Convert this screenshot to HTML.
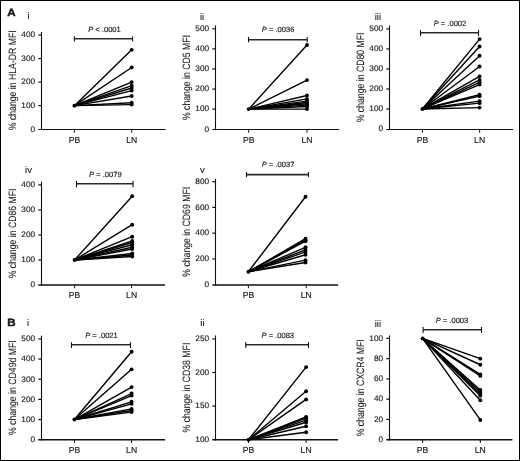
<!DOCTYPE html>
<html><head><meta charset="utf-8"><style>
html,body{margin:0;padding:0;background:#fff;}
body{width:520px;height:461px;overflow:hidden;}
svg{display:block;will-change:transform;}
text{font-family:"Liberation Sans", sans-serif;fill:#1a1a1a;text-rendering:geometricPrecision;stroke:#1a1a1a;stroke-width:0.15px;}
</style></head><body>
<svg width="520" height="461" viewBox="0 0 520 461">
<rect x="0.5" y="0.5" width="519" height="460" fill="#fff" stroke="#000" stroke-width="1"/>
<text transform="translate(7.3,16.3) scale(1.1,1)" font-size="10.5" font-weight="bold" style="stroke-width:0.45px">A</text>
<text transform="translate(7.3,326.3) scale(1.1,1)" font-size="10.5" font-weight="bold" style="stroke-width:0.45px">B</text>
<line x1="41.5" y1="32" x2="41.5" y2="130" stroke="#111" stroke-width="1.1"/>
<line x1="38.3" y1="129.5" x2="165.6" y2="129.5" stroke="#111" stroke-width="1.0"/>
<text transform="translate(35.1,131.5) scale(1.03,1)" font-size="8.0" text-anchor="end">0</text>
<line x1="38.3" y1="105.65" x2="41.5" y2="105.65" stroke="#111" stroke-width="1.2"/>
<text transform="translate(35.1,107.95) scale(1.03,1)" font-size="8.0" text-anchor="end">100</text>
<line x1="38.3" y1="82.1" x2="41.5" y2="82.1" stroke="#111" stroke-width="1.2"/>
<text transform="translate(35.1,84.4) scale(1.03,1)" font-size="8.0" text-anchor="end">200</text>
<line x1="38.3" y1="58.55" x2="41.5" y2="58.55" stroke="#111" stroke-width="1.2"/>
<text transform="translate(35.1,60.85) scale(1.03,1)" font-size="8.0" text-anchor="end">300</text>
<line x1="38.3" y1="35" x2="41.5" y2="35" stroke="#111" stroke-width="1.2"/>
<text transform="translate(35.1,37.3) scale(1.03,1)" font-size="8.0" text-anchor="end">400</text>
<line x1="74.4" y1="129.5" x2="74.4" y2="132.7" stroke="#111" stroke-width="1"/>
<text transform="translate(74.4,142.6)" font-size="8.6" text-anchor="middle">PB</text>
<line x1="131.7" y1="129.5" x2="131.7" y2="132.7" stroke="#111" stroke-width="1"/>
<text transform="translate(131.7,142.6)" font-size="8.6" text-anchor="middle">LN</text>
<line x1="74.4" y1="38.8" x2="132.6" y2="38.8" stroke="#2a2a2a" stroke-width="1.6"/>
<line x1="74.4" y1="36.2" x2="74.4" y2="41.5" stroke="#111" stroke-width="1.1"/>
<line x1="132.6" y1="36.2" x2="132.6" y2="41.5" stroke="#111" stroke-width="1.1"/>
<text transform="translate(88.2,31.9)" font-size="7.55"><tspan font-style="italic">P</tspan> &lt; .0001</text>
<text transform="translate(27.4,19.3)" font-size="9.6" style="stroke-width:0.1px">i</text>
<text transform="translate(15.6,80.25) scale(1.22,1) rotate(-90)" font-size="8.7" text-anchor="middle" style="stroke-width:0.06px">% change in HLA-DR MFI</text>
<line x1="74.4" y1="105.65" x2="131.7" y2="49.84" stroke="#000" stroke-width="1.4"/>
<line x1="74.4" y1="105.65" x2="131.7" y2="67.5" stroke="#000" stroke-width="1.4"/>
<line x1="74.4" y1="105.65" x2="131.7" y2="82.1" stroke="#000" stroke-width="1.4"/>
<line x1="74.4" y1="105.65" x2="131.7" y2="85.63" stroke="#000" stroke-width="1.4"/>
<line x1="74.4" y1="105.65" x2="131.7" y2="87.99" stroke="#000" stroke-width="1.4"/>
<line x1="74.4" y1="105.65" x2="131.7" y2="90.58" stroke="#000" stroke-width="1.4"/>
<line x1="74.4" y1="105.65" x2="131.7" y2="95.99" stroke="#000" stroke-width="1.4"/>
<line x1="74.4" y1="105.65" x2="131.7" y2="102.82" stroke="#000" stroke-width="1.4"/>
<line x1="74.4" y1="105.65" x2="131.7" y2="104.59" stroke="#000" stroke-width="1.4"/>
<circle cx="131.7" cy="49.84" r="1.95" fill="#000"/>
<circle cx="131.7" cy="67.5" r="1.95" fill="#000"/>
<circle cx="131.7" cy="82.1" r="1.95" fill="#000"/>
<circle cx="131.7" cy="85.63" r="1.95" fill="#000"/>
<circle cx="131.7" cy="87.99" r="1.95" fill="#000"/>
<circle cx="131.7" cy="90.58" r="1.95" fill="#000"/>
<circle cx="131.7" cy="95.99" r="1.95" fill="#000"/>
<circle cx="131.7" cy="102.82" r="1.95" fill="#000"/>
<circle cx="131.7" cy="104.59" r="1.95" fill="#000"/>
<circle cx="74.4" cy="105.65" r="1.95" fill="#000"/>
<line x1="215.5" y1="25.4" x2="215.5" y2="130" stroke="#111" stroke-width="1.1"/>
<line x1="212.3" y1="129.5" x2="339.2" y2="129.5" stroke="#111" stroke-width="1.0"/>
<text transform="translate(209.1,131.5) scale(1.03,1)" font-size="8.0" text-anchor="end">0</text>
<line x1="212.3" y1="109.12" x2="215.5" y2="109.12" stroke="#111" stroke-width="1.2"/>
<text transform="translate(209.1,111.42) scale(1.03,1)" font-size="8.0" text-anchor="end">100</text>
<line x1="212.3" y1="89.04" x2="215.5" y2="89.04" stroke="#111" stroke-width="1.2"/>
<text transform="translate(209.1,91.34) scale(1.03,1)" font-size="8.0" text-anchor="end">200</text>
<line x1="212.3" y1="68.96" x2="215.5" y2="68.96" stroke="#111" stroke-width="1.2"/>
<text transform="translate(209.1,71.26) scale(1.03,1)" font-size="8.0" text-anchor="end">300</text>
<line x1="212.3" y1="48.88" x2="215.5" y2="48.88" stroke="#111" stroke-width="1.2"/>
<text transform="translate(209.1,51.18) scale(1.03,1)" font-size="8.0" text-anchor="end">400</text>
<line x1="212.3" y1="28.8" x2="215.5" y2="28.8" stroke="#111" stroke-width="1.2"/>
<text transform="translate(209.1,31.1) scale(1.03,1)" font-size="8.0" text-anchor="end">500</text>
<line x1="248.7" y1="129.5" x2="248.7" y2="132.7" stroke="#111" stroke-width="1"/>
<text transform="translate(248.7,142.6)" font-size="8.6" text-anchor="middle">PB</text>
<line x1="307" y1="129.5" x2="307" y2="132.7" stroke="#111" stroke-width="1"/>
<text transform="translate(307,142.6)" font-size="8.6" text-anchor="middle">LN</text>
<line x1="248.5" y1="39.7" x2="307.2" y2="39.7" stroke="#2a2a2a" stroke-width="1.6"/>
<line x1="248.5" y1="36.9" x2="248.5" y2="42.3" stroke="#111" stroke-width="1.1"/>
<line x1="307.2" y1="36.9" x2="307.2" y2="42.3" stroke="#111" stroke-width="1.1"/>
<text transform="translate(261.8,32.4)" font-size="7.55"><tspan font-style="italic">P</tspan> = .0036</text>
<text transform="translate(199.9,19.6)" font-size="9.6" style="stroke-width:0.1px">ii</text>
<text transform="translate(190.1,77.6) scale(1.22,1) rotate(-90)" font-size="8.7" text-anchor="middle" style="stroke-width:0.06px">% change in CD5 MFI</text>
<line x1="248.7" y1="109.12" x2="307" y2="45.06" stroke="#000" stroke-width="1.4"/>
<line x1="248.7" y1="109.12" x2="307" y2="80.1" stroke="#000" stroke-width="1.4"/>
<line x1="248.7" y1="109.12" x2="307" y2="95.47" stroke="#000" stroke-width="1.4"/>
<line x1="248.7" y1="109.12" x2="307" y2="98.88" stroke="#000" stroke-width="1.4"/>
<line x1="248.7" y1="109.12" x2="307" y2="101.09" stroke="#000" stroke-width="1.4"/>
<line x1="248.7" y1="109.12" x2="307" y2="102.49" stroke="#000" stroke-width="1.4"/>
<line x1="248.7" y1="109.12" x2="307" y2="103.7" stroke="#000" stroke-width="1.4"/>
<line x1="248.7" y1="109.12" x2="307" y2="105.1" stroke="#000" stroke-width="1.4"/>
<line x1="248.7" y1="109.12" x2="307" y2="106.51" stroke="#000" stroke-width="1.4"/>
<line x1="248.7" y1="109.12" x2="307" y2="109.12" stroke="#000" stroke-width="1.4"/>
<circle cx="307" cy="45.06" r="1.95" fill="#000"/>
<circle cx="307" cy="80.1" r="1.95" fill="#000"/>
<circle cx="307" cy="95.47" r="1.95" fill="#000"/>
<circle cx="307" cy="98.88" r="1.95" fill="#000"/>
<circle cx="307" cy="101.09" r="1.95" fill="#000"/>
<circle cx="307" cy="102.49" r="1.95" fill="#000"/>
<circle cx="307" cy="103.7" r="1.95" fill="#000"/>
<circle cx="307" cy="105.1" r="1.95" fill="#000"/>
<circle cx="307" cy="106.51" r="1.95" fill="#000"/>
<circle cx="307" cy="109.12" r="1.95" fill="#000"/>
<circle cx="248.7" cy="109.12" r="1.95" fill="#000"/>
<line x1="389.5" y1="25.6" x2="389.5" y2="130" stroke="#111" stroke-width="1.1"/>
<line x1="386.3" y1="129.5" x2="513.1" y2="129.5" stroke="#111" stroke-width="1.0"/>
<text transform="translate(383.1,131.3) scale(1.03,1)" font-size="8.0" text-anchor="end">0</text>
<line x1="386.3" y1="108.98" x2="389.5" y2="108.98" stroke="#111" stroke-width="1.2"/>
<text transform="translate(383.1,111.28) scale(1.03,1)" font-size="8.0" text-anchor="end">100</text>
<line x1="386.3" y1="88.96" x2="389.5" y2="88.96" stroke="#111" stroke-width="1.2"/>
<text transform="translate(383.1,91.26) scale(1.03,1)" font-size="8.0" text-anchor="end">200</text>
<line x1="386.3" y1="68.94" x2="389.5" y2="68.94" stroke="#111" stroke-width="1.2"/>
<text transform="translate(383.1,71.24) scale(1.03,1)" font-size="8.0" text-anchor="end">300</text>
<line x1="386.3" y1="48.92" x2="389.5" y2="48.92" stroke="#111" stroke-width="1.2"/>
<text transform="translate(383.1,51.22) scale(1.03,1)" font-size="8.0" text-anchor="end">400</text>
<line x1="386.3" y1="28.9" x2="389.5" y2="28.9" stroke="#111" stroke-width="1.2"/>
<text transform="translate(383.1,31.2) scale(1.03,1)" font-size="8.0" text-anchor="end">500</text>
<line x1="422.4" y1="129.5" x2="422.4" y2="132.7" stroke="#111" stroke-width="1"/>
<text transform="translate(422.4,142.6)" font-size="8.6" text-anchor="middle">PB</text>
<line x1="479.6" y1="129.5" x2="479.6" y2="132.7" stroke="#111" stroke-width="1"/>
<text transform="translate(479.6,142.6)" font-size="8.6" text-anchor="middle">LN</text>
<line x1="420.5" y1="32.8" x2="478.5" y2="32.8" stroke="#2a2a2a" stroke-width="1.6"/>
<line x1="420.5" y1="30" x2="420.5" y2="36.2" stroke="#111" stroke-width="1.1"/>
<line x1="478.5" y1="30" x2="478.5" y2="36.2" stroke="#111" stroke-width="1.1"/>
<text transform="translate(433.7,25.6)" font-size="7.55"><tspan font-style="italic">P</tspan> = .0002</text>
<text transform="translate(374.7,19.6)" font-size="9.6" style="stroke-width:0.1px">iii</text>
<text transform="translate(364,77.4) scale(1.22,1) rotate(-90)" font-size="8.7" text-anchor="middle" style="stroke-width:0.06px">% change in CD80 MFI</text>
<line x1="422.4" y1="108.98" x2="479.6" y2="39.11" stroke="#000" stroke-width="1.4"/>
<line x1="422.4" y1="108.98" x2="479.6" y2="46.52" stroke="#000" stroke-width="1.4"/>
<line x1="422.4" y1="108.98" x2="479.6" y2="55.73" stroke="#000" stroke-width="1.4"/>
<line x1="422.4" y1="108.98" x2="479.6" y2="66.54" stroke="#000" stroke-width="1.4"/>
<line x1="422.4" y1="108.98" x2="479.6" y2="76.35" stroke="#000" stroke-width="1.4"/>
<line x1="422.4" y1="108.98" x2="479.6" y2="79.95" stroke="#000" stroke-width="1.4"/>
<line x1="422.4" y1="108.98" x2="479.6" y2="82.35" stroke="#000" stroke-width="1.4"/>
<line x1="422.4" y1="108.98" x2="479.6" y2="84.56" stroke="#000" stroke-width="1.4"/>
<line x1="422.4" y1="108.98" x2="479.6" y2="94.77" stroke="#000" stroke-width="1.4"/>
<line x1="422.4" y1="108.98" x2="479.6" y2="96.17" stroke="#000" stroke-width="1.4"/>
<line x1="422.4" y1="108.98" x2="479.6" y2="101.17" stroke="#000" stroke-width="1.4"/>
<line x1="422.4" y1="108.98" x2="479.6" y2="103.17" stroke="#000" stroke-width="1.4"/>
<line x1="422.4" y1="108.98" x2="479.6" y2="107.58" stroke="#000" stroke-width="1.4"/>
<circle cx="479.6" cy="39.11" r="1.95" fill="#000"/>
<circle cx="479.6" cy="46.52" r="1.95" fill="#000"/>
<circle cx="479.6" cy="55.73" r="1.95" fill="#000"/>
<circle cx="479.6" cy="66.54" r="1.95" fill="#000"/>
<circle cx="479.6" cy="76.35" r="1.95" fill="#000"/>
<circle cx="479.6" cy="79.95" r="1.95" fill="#000"/>
<circle cx="479.6" cy="82.35" r="1.95" fill="#000"/>
<circle cx="479.6" cy="84.56" r="1.95" fill="#000"/>
<circle cx="479.6" cy="94.77" r="1.95" fill="#000"/>
<circle cx="479.6" cy="96.17" r="1.95" fill="#000"/>
<circle cx="479.6" cy="101.17" r="1.95" fill="#000"/>
<circle cx="479.6" cy="103.17" r="1.95" fill="#000"/>
<circle cx="479.6" cy="107.58" r="1.95" fill="#000"/>
<circle cx="422.4" cy="108.98" r="1.95" fill="#000"/>
<line x1="41.5" y1="181.7" x2="41.5" y2="285.8" stroke="#111" stroke-width="1.1"/>
<line x1="38.3" y1="285" x2="165" y2="285" stroke="#111" stroke-width="1.6"/>
<text transform="translate(35.1,287.3) scale(1.03,1)" font-size="8.0" text-anchor="end">0</text>
<line x1="38.3" y1="259.98" x2="41.5" y2="259.98" stroke="#111" stroke-width="1.2"/>
<text transform="translate(35.1,262.28) scale(1.03,1)" font-size="8.0" text-anchor="end">100</text>
<line x1="38.3" y1="234.95" x2="41.5" y2="234.95" stroke="#111" stroke-width="1.2"/>
<text transform="translate(35.1,237.25) scale(1.03,1)" font-size="8.0" text-anchor="end">200</text>
<line x1="38.3" y1="209.93" x2="41.5" y2="209.93" stroke="#111" stroke-width="1.2"/>
<text transform="translate(35.1,212.23) scale(1.03,1)" font-size="8.0" text-anchor="end">300</text>
<line x1="38.3" y1="184.9" x2="41.5" y2="184.9" stroke="#111" stroke-width="1.2"/>
<text transform="translate(35.1,187.2) scale(1.03,1)" font-size="8.0" text-anchor="end">400</text>
<line x1="74.6" y1="285" x2="74.6" y2="288.2" stroke="#111" stroke-width="1"/>
<text transform="translate(74.6,298.1)" font-size="8.6" text-anchor="middle">PB</text>
<line x1="131.6" y1="285" x2="131.6" y2="288.2" stroke="#111" stroke-width="1"/>
<text transform="translate(131.6,298.1)" font-size="8.6" text-anchor="middle">LN</text>
<line x1="76.5" y1="183.7" x2="133" y2="183.7" stroke="#2a2a2a" stroke-width="1.6"/>
<line x1="76.5" y1="181" x2="76.5" y2="187.2" stroke="#111" stroke-width="1.1"/>
<line x1="133" y1="181" x2="133" y2="187.2" stroke="#111" stroke-width="1.1"/>
<text transform="translate(89.1,177)" font-size="7.55"><tspan font-style="italic">P</tspan> = .0079</text>
<text transform="translate(25.1,173)" font-size="9.6" style="stroke-width:0.1px">iv</text>
<text transform="translate(15.6,233.4) scale(1.22,1) rotate(-90)" font-size="8.7" text-anchor="middle" style="stroke-width:0.06px">% change in CD86 MFI</text>
<line x1="74.6" y1="259.98" x2="132.2" y2="196.16" stroke="#000" stroke-width="1.4"/>
<line x1="74.6" y1="259.98" x2="132.2" y2="224.69" stroke="#000" stroke-width="1.4"/>
<line x1="74.6" y1="259.98" x2="132.2" y2="236.7" stroke="#000" stroke-width="1.4"/>
<line x1="74.6" y1="259.98" x2="132.2" y2="240.96" stroke="#000" stroke-width="1.4"/>
<line x1="74.6" y1="259.98" x2="132.2" y2="242.46" stroke="#000" stroke-width="1.4"/>
<line x1="74.6" y1="259.98" x2="132.2" y2="244.71" stroke="#000" stroke-width="1.4"/>
<line x1="74.6" y1="259.98" x2="132.2" y2="247.21" stroke="#000" stroke-width="1.4"/>
<line x1="74.6" y1="259.98" x2="132.2" y2="248.96" stroke="#000" stroke-width="1.4"/>
<line x1="74.6" y1="259.98" x2="132.2" y2="253.47" stroke="#000" stroke-width="1.4"/>
<line x1="74.6" y1="259.98" x2="132.2" y2="254.97" stroke="#000" stroke-width="1.4"/>
<line x1="74.6" y1="259.98" x2="132.2" y2="256.47" stroke="#000" stroke-width="1.4"/>
<circle cx="132.2" cy="196.16" r="1.95" fill="#000"/>
<circle cx="132.2" cy="224.69" r="1.95" fill="#000"/>
<circle cx="132.2" cy="236.7" r="1.95" fill="#000"/>
<circle cx="132.2" cy="240.96" r="1.95" fill="#000"/>
<circle cx="132.2" cy="242.46" r="1.95" fill="#000"/>
<circle cx="132.2" cy="244.71" r="1.95" fill="#000"/>
<circle cx="132.2" cy="247.21" r="1.95" fill="#000"/>
<circle cx="132.2" cy="248.96" r="1.95" fill="#000"/>
<circle cx="132.2" cy="253.47" r="1.95" fill="#000"/>
<circle cx="132.2" cy="254.97" r="1.95" fill="#000"/>
<circle cx="132.2" cy="256.47" r="1.95" fill="#000"/>
<circle cx="74.6" cy="259.98" r="1.95" fill="#000"/>
<line x1="215.5" y1="178.8" x2="215.5" y2="285.8" stroke="#111" stroke-width="1.1"/>
<line x1="212.3" y1="285" x2="338" y2="285" stroke="#111" stroke-width="1.6"/>
<text transform="translate(209.1,286.9) scale(1.03,1)" font-size="8.0" text-anchor="end">0</text>
<line x1="212.3" y1="258.88" x2="215.5" y2="258.88" stroke="#111" stroke-width="1.2"/>
<text transform="translate(209.1,261.18) scale(1.03,1)" font-size="8.0" text-anchor="end">200</text>
<line x1="212.3" y1="233.15" x2="215.5" y2="233.15" stroke="#111" stroke-width="1.2"/>
<text transform="translate(209.1,235.45) scale(1.03,1)" font-size="8.0" text-anchor="end">400</text>
<line x1="212.3" y1="207.43" x2="215.5" y2="207.43" stroke="#111" stroke-width="1.2"/>
<text transform="translate(209.1,209.73) scale(1.03,1)" font-size="8.0" text-anchor="end">600</text>
<line x1="212.3" y1="181.7" x2="215.5" y2="181.7" stroke="#111" stroke-width="1.2"/>
<text transform="translate(209.1,184) scale(1.03,1)" font-size="8.0" text-anchor="end">800</text>
<line x1="248.4" y1="285" x2="248.4" y2="288.2" stroke="#111" stroke-width="1"/>
<text transform="translate(248.4,298.1)" font-size="8.6" text-anchor="middle">PB</text>
<line x1="306.2" y1="285" x2="306.2" y2="288.2" stroke="#111" stroke-width="1"/>
<text transform="translate(306.2,298.1)" font-size="8.6" text-anchor="middle">LN</text>
<line x1="246.5" y1="174.6" x2="308.5" y2="174.6" stroke="#2a2a2a" stroke-width="1.6"/>
<line x1="246.5" y1="172" x2="246.5" y2="177.2" stroke="#111" stroke-width="1.1"/>
<line x1="308.5" y1="172" x2="308.5" y2="177.2" stroke="#111" stroke-width="1.1"/>
<text transform="translate(261.8,167)" font-size="7.55"><tspan font-style="italic">P</tspan> = .0037</text>
<text transform="translate(200,172.8)" font-size="9.6" style="stroke-width:0.1px">v</text>
<text transform="translate(190.1,231.8) scale(1.22,1) rotate(-90)" font-size="8.7" text-anchor="middle" style="stroke-width:0.06px">% change in CD69 MFI</text>
<line x1="248.4" y1="271.74" x2="305.5" y2="196.75" stroke="#000" stroke-width="1.4"/>
<line x1="248.4" y1="271.74" x2="305.5" y2="238.68" stroke="#000" stroke-width="1.4"/>
<line x1="248.4" y1="271.74" x2="305.5" y2="240.22" stroke="#000" stroke-width="1.4"/>
<line x1="248.4" y1="271.74" x2="305.5" y2="241.25" stroke="#000" stroke-width="1.4"/>
<line x1="248.4" y1="271.74" x2="305.5" y2="247.3" stroke="#000" stroke-width="1.4"/>
<line x1="248.4" y1="271.74" x2="305.5" y2="249.87" stroke="#000" stroke-width="1.4"/>
<line x1="248.4" y1="271.74" x2="305.5" y2="251.93" stroke="#000" stroke-width="1.4"/>
<line x1="248.4" y1="271.74" x2="305.5" y2="254.76" stroke="#000" stroke-width="1.4"/>
<line x1="248.4" y1="271.74" x2="305.5" y2="260.16" stroke="#000" stroke-width="1.4"/>
<line x1="248.4" y1="271.74" x2="305.5" y2="262.48" stroke="#000" stroke-width="1.4"/>
<circle cx="305.5" cy="196.75" r="1.95" fill="#000"/>
<circle cx="305.5" cy="238.68" r="1.95" fill="#000"/>
<circle cx="305.5" cy="240.22" r="1.95" fill="#000"/>
<circle cx="305.5" cy="241.25" r="1.95" fill="#000"/>
<circle cx="305.5" cy="247.3" r="1.95" fill="#000"/>
<circle cx="305.5" cy="249.87" r="1.95" fill="#000"/>
<circle cx="305.5" cy="251.93" r="1.95" fill="#000"/>
<circle cx="305.5" cy="254.76" r="1.95" fill="#000"/>
<circle cx="305.5" cy="260.16" r="1.95" fill="#000"/>
<circle cx="305.5" cy="262.48" r="1.95" fill="#000"/>
<circle cx="248.4" cy="271.74" r="1.95" fill="#000"/>
<line x1="41.5" y1="335.6" x2="41.5" y2="440.6" stroke="#111" stroke-width="1.1"/>
<line x1="38.3" y1="439.8" x2="165" y2="439.8" stroke="#111" stroke-width="1.6"/>
<text transform="translate(35.1,442) scale(1.03,1)" font-size="8.0" text-anchor="end">0</text>
<line x1="38.3" y1="419.54" x2="41.5" y2="419.54" stroke="#111" stroke-width="1.2"/>
<text transform="translate(35.1,421.84) scale(1.03,1)" font-size="8.0" text-anchor="end">100</text>
<line x1="38.3" y1="399.38" x2="41.5" y2="399.38" stroke="#111" stroke-width="1.2"/>
<text transform="translate(35.1,401.68) scale(1.03,1)" font-size="8.0" text-anchor="end">200</text>
<line x1="38.3" y1="379.22" x2="41.5" y2="379.22" stroke="#111" stroke-width="1.2"/>
<text transform="translate(35.1,381.52) scale(1.03,1)" font-size="8.0" text-anchor="end">300</text>
<line x1="38.3" y1="359.06" x2="41.5" y2="359.06" stroke="#111" stroke-width="1.2"/>
<text transform="translate(35.1,361.36) scale(1.03,1)" font-size="8.0" text-anchor="end">400</text>
<line x1="38.3" y1="338.9" x2="41.5" y2="338.9" stroke="#111" stroke-width="1.2"/>
<text transform="translate(35.1,341.2) scale(1.03,1)" font-size="8.0" text-anchor="end">500</text>
<line x1="74.4" y1="439.8" x2="74.4" y2="443" stroke="#111" stroke-width="1"/>
<text transform="translate(74.4,452.9)" font-size="8.6" text-anchor="middle">PB</text>
<line x1="131.6" y1="439.8" x2="131.6" y2="443" stroke="#111" stroke-width="1"/>
<text transform="translate(131.6,452.9)" font-size="8.6" text-anchor="middle">LN</text>
<line x1="71.5" y1="344.7" x2="130.5" y2="344.7" stroke="#2a2a2a" stroke-width="1.6"/>
<line x1="71.5" y1="342.2" x2="71.5" y2="348" stroke="#111" stroke-width="1.1"/>
<line x1="130.5" y1="342.2" x2="130.5" y2="348" stroke="#111" stroke-width="1.1"/>
<text transform="translate(85.2,338.2)" font-size="7.55"><tspan font-style="italic">P</tspan> = .0021</text>
<text transform="translate(27,325.9)" font-size="9.6" style="stroke-width:0.1px">i</text>
<text transform="translate(15.6,387.65) scale(1.22,1) rotate(-90)" font-size="8.7" text-anchor="middle" style="stroke-width:0.06px">% change in CD49d MFI</text>
<line x1="74.4" y1="419.54" x2="131.6" y2="351.8" stroke="#000" stroke-width="1.4"/>
<line x1="74.4" y1="419.54" x2="131.6" y2="369.34" stroke="#000" stroke-width="1.4"/>
<line x1="74.4" y1="419.54" x2="131.6" y2="387.08" stroke="#000" stroke-width="1.4"/>
<line x1="74.4" y1="419.54" x2="131.6" y2="393.53" stroke="#000" stroke-width="1.4"/>
<line x1="74.4" y1="419.54" x2="131.6" y2="395.55" stroke="#000" stroke-width="1.4"/>
<line x1="74.4" y1="419.54" x2="131.6" y2="401.8" stroke="#000" stroke-width="1.4"/>
<line x1="74.4" y1="419.54" x2="131.6" y2="403.82" stroke="#000" stroke-width="1.4"/>
<line x1="74.4" y1="419.54" x2="131.6" y2="408.86" stroke="#000" stroke-width="1.4"/>
<line x1="74.4" y1="419.54" x2="131.6" y2="410.47" stroke="#000" stroke-width="1.4"/>
<line x1="74.4" y1="419.54" x2="131.6" y2="412.08" stroke="#000" stroke-width="1.4"/>
<circle cx="131.6" cy="351.8" r="1.95" fill="#000"/>
<circle cx="131.6" cy="369.34" r="1.95" fill="#000"/>
<circle cx="131.6" cy="387.08" r="1.95" fill="#000"/>
<circle cx="131.6" cy="393.53" r="1.95" fill="#000"/>
<circle cx="131.6" cy="395.55" r="1.95" fill="#000"/>
<circle cx="131.6" cy="401.8" r="1.95" fill="#000"/>
<circle cx="131.6" cy="403.82" r="1.95" fill="#000"/>
<circle cx="131.6" cy="408.86" r="1.95" fill="#000"/>
<circle cx="131.6" cy="410.47" r="1.95" fill="#000"/>
<circle cx="131.6" cy="412.08" r="1.95" fill="#000"/>
<circle cx="74.4" cy="419.54" r="1.95" fill="#000"/>
<line x1="215.5" y1="335.4" x2="215.5" y2="440.6" stroke="#111" stroke-width="1.1"/>
<line x1="212.3" y1="439.8" x2="338" y2="439.8" stroke="#111" stroke-width="1.6"/>
<text transform="translate(209.1,442) scale(1.03,1)" font-size="8.0" text-anchor="end">100</text>
<line x1="212.3" y1="406.1" x2="215.5" y2="406.1" stroke="#111" stroke-width="1.2"/>
<text transform="translate(209.1,408.4) scale(1.03,1)" font-size="8.0" text-anchor="end">150</text>
<line x1="212.3" y1="372.5" x2="215.5" y2="372.5" stroke="#111" stroke-width="1.2"/>
<text transform="translate(209.1,374.8) scale(1.03,1)" font-size="8.0" text-anchor="end">200</text>
<line x1="212.3" y1="338.9" x2="215.5" y2="338.9" stroke="#111" stroke-width="1.2"/>
<text transform="translate(209.1,341.2) scale(1.03,1)" font-size="8.0" text-anchor="end">250</text>
<line x1="248.5" y1="439.8" x2="248.5" y2="443" stroke="#111" stroke-width="1"/>
<text transform="translate(248.5,452.9)" font-size="8.6" text-anchor="middle">PB</text>
<line x1="306.1" y1="439.8" x2="306.1" y2="443" stroke="#111" stroke-width="1"/>
<text transform="translate(306.1,452.9)" font-size="8.6" text-anchor="middle">LN</text>
<line x1="245.8" y1="344.7" x2="308.5" y2="344.7" stroke="#2a2a2a" stroke-width="1.6"/>
<line x1="245.8" y1="342" x2="245.8" y2="348" stroke="#111" stroke-width="1.1"/>
<line x1="308.5" y1="342" x2="308.5" y2="348" stroke="#111" stroke-width="1.1"/>
<text transform="translate(261.5,338.2)" font-size="7.55"><tspan font-style="italic">P</tspan> = .0083</text>
<text transform="translate(200.3,326.3)" font-size="9.6" style="stroke-width:0.1px">ii</text>
<text transform="translate(190.1,387.6) scale(1.22,1) rotate(-90)" font-size="8.7" text-anchor="middle" style="stroke-width:0.06px">% change in CD38 MFI</text>
<line x1="248.5" y1="439.7" x2="306.1" y2="367.12" stroke="#000" stroke-width="1.4"/>
<line x1="248.5" y1="439.7" x2="306.1" y2="391.32" stroke="#000" stroke-width="1.4"/>
<line x1="248.5" y1="439.7" x2="306.1" y2="399.38" stroke="#000" stroke-width="1.4"/>
<line x1="248.5" y1="439.7" x2="306.1" y2="416.85" stroke="#000" stroke-width="1.4"/>
<line x1="248.5" y1="439.7" x2="306.1" y2="418.2" stroke="#000" stroke-width="1.4"/>
<line x1="248.5" y1="439.7" x2="306.1" y2="420.21" stroke="#000" stroke-width="1.4"/>
<line x1="248.5" y1="439.7" x2="306.1" y2="422.23" stroke="#000" stroke-width="1.4"/>
<line x1="248.5" y1="439.7" x2="306.1" y2="426.26" stroke="#000" stroke-width="1.4"/>
<line x1="248.5" y1="439.7" x2="306.1" y2="432.31" stroke="#000" stroke-width="1.4"/>
<circle cx="306.1" cy="367.12" r="1.95" fill="#000"/>
<circle cx="306.1" cy="391.32" r="1.95" fill="#000"/>
<circle cx="306.1" cy="399.38" r="1.95" fill="#000"/>
<circle cx="306.1" cy="416.85" r="1.95" fill="#000"/>
<circle cx="306.1" cy="418.2" r="1.95" fill="#000"/>
<circle cx="306.1" cy="420.21" r="1.95" fill="#000"/>
<circle cx="306.1" cy="422.23" r="1.95" fill="#000"/>
<circle cx="306.1" cy="426.26" r="1.95" fill="#000"/>
<circle cx="306.1" cy="432.31" r="1.95" fill="#000"/>
<circle cx="248.5" cy="439.7" r="1.95" fill="#000"/>
<line x1="389.5" y1="335.4" x2="389.5" y2="440.6" stroke="#111" stroke-width="1.1"/>
<line x1="386.3" y1="439.8" x2="512.4" y2="439.8" stroke="#111" stroke-width="1.6"/>
<text transform="translate(383.1,442) scale(1.03,1)" font-size="8.0" text-anchor="end">0</text>
<line x1="386.3" y1="419.44" x2="389.5" y2="419.44" stroke="#111" stroke-width="1.2"/>
<text transform="translate(383.1,421.74) scale(1.03,1)" font-size="8.0" text-anchor="end">20</text>
<line x1="386.3" y1="399.18" x2="389.5" y2="399.18" stroke="#111" stroke-width="1.2"/>
<text transform="translate(383.1,401.48) scale(1.03,1)" font-size="8.0" text-anchor="end">40</text>
<line x1="386.3" y1="378.92" x2="389.5" y2="378.92" stroke="#111" stroke-width="1.2"/>
<text transform="translate(383.1,381.22) scale(1.03,1)" font-size="8.0" text-anchor="end">60</text>
<line x1="386.3" y1="358.66" x2="389.5" y2="358.66" stroke="#111" stroke-width="1.2"/>
<text transform="translate(383.1,360.96) scale(1.03,1)" font-size="8.0" text-anchor="end">80</text>
<line x1="386.3" y1="338.4" x2="389.5" y2="338.4" stroke="#111" stroke-width="1.2"/>
<text transform="translate(383.1,340.7) scale(1.03,1)" font-size="8.0" text-anchor="end">100</text>
<line x1="422.6" y1="439.8" x2="422.6" y2="443" stroke="#111" stroke-width="1"/>
<text transform="translate(422.6,452.9)" font-size="8.6" text-anchor="middle">PB</text>
<line x1="480.3" y1="439.8" x2="480.3" y2="443" stroke="#111" stroke-width="1"/>
<text transform="translate(480.3,452.9)" font-size="8.6" text-anchor="middle">LN</text>
<line x1="423.1" y1="329.7" x2="481.5" y2="329.7" stroke="#2a2a2a" stroke-width="1.6"/>
<line x1="423.1" y1="327" x2="423.1" y2="333" stroke="#111" stroke-width="1.1"/>
<line x1="481.5" y1="327" x2="481.5" y2="333" stroke="#111" stroke-width="1.1"/>
<text transform="translate(435.7,323.2)" font-size="7.55"><tspan font-style="italic">P</tspan> = .0003</text>
<text transform="translate(374.7,326.5)" font-size="9.6" style="stroke-width:0.1px">iii</text>
<text transform="translate(364,387.8) scale(1.22,1) rotate(-90)" font-size="8.7" text-anchor="middle" style="stroke-width:0.06px">% change in CXCR4 MFI</text>
<line x1="422.6" y1="338.4" x2="480.3" y2="358.66" stroke="#000" stroke-width="1.4"/>
<line x1="422.6" y1="338.4" x2="480.3" y2="364.74" stroke="#000" stroke-width="1.4"/>
<line x1="422.6" y1="338.4" x2="480.3" y2="374.36" stroke="#000" stroke-width="1.4"/>
<line x1="422.6" y1="338.4" x2="480.3" y2="375.88" stroke="#000" stroke-width="1.4"/>
<line x1="422.6" y1="338.4" x2="480.3" y2="390.06" stroke="#000" stroke-width="1.4"/>
<line x1="422.6" y1="338.4" x2="480.3" y2="392.09" stroke="#000" stroke-width="1.4"/>
<line x1="422.6" y1="338.4" x2="480.3" y2="394.12" stroke="#000" stroke-width="1.4"/>
<line x1="422.6" y1="338.4" x2="480.3" y2="395.63" stroke="#000" stroke-width="1.4"/>
<line x1="422.6" y1="338.4" x2="480.3" y2="400.19" stroke="#000" stroke-width="1.4"/>
<line x1="422.6" y1="338.4" x2="480.3" y2="419.95" stroke="#000" stroke-width="1.4"/>
<circle cx="480.3" cy="358.66" r="1.95" fill="#000"/>
<circle cx="480.3" cy="364.74" r="1.95" fill="#000"/>
<circle cx="480.3" cy="374.36" r="1.95" fill="#000"/>
<circle cx="480.3" cy="375.88" r="1.95" fill="#000"/>
<circle cx="480.3" cy="390.06" r="1.95" fill="#000"/>
<circle cx="480.3" cy="392.09" r="1.95" fill="#000"/>
<circle cx="480.3" cy="394.12" r="1.95" fill="#000"/>
<circle cx="480.3" cy="395.63" r="1.95" fill="#000"/>
<circle cx="480.3" cy="400.19" r="1.95" fill="#000"/>
<circle cx="480.3" cy="419.95" r="1.95" fill="#000"/>
<circle cx="422.6" cy="338.4" r="1.95" fill="#000"/>
</svg>
</body></html>
